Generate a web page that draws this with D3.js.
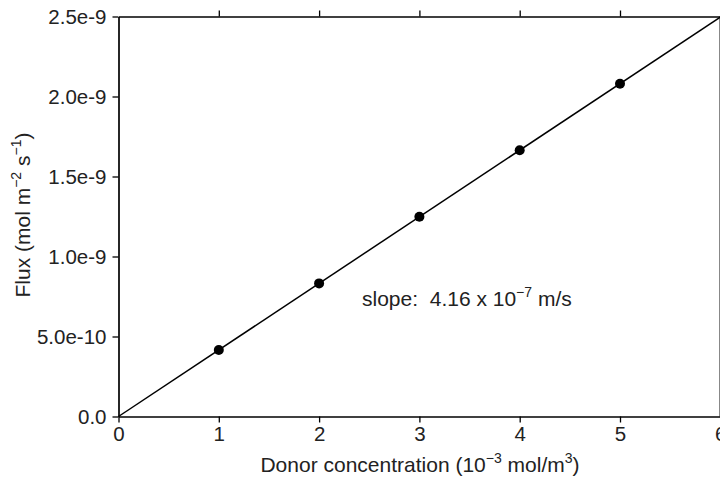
<!DOCTYPE html>
<html>
<head>
<meta charset="utf-8">
<script src="https://cdn.jsdelivr.net/npm/d3@7"></script>
<style>
  html, body { margin: 0; padding: 0; background: #fff; }
  svg { display: block; font-family: "Liberation Sans", Arial, Helvetica, sans-serif; }
</style>
</head>
<body>
<svg id="chart" width="720" height="481"></svg>
<script>
// Donor concentration (10^-3 mol/m^3) and measured flux (mol m^-2 s^-1)
const concentration = [1, 2, 3, 4, 5];
const flux = [4.16e-10, 8.32e-10, 1.248e-9, 1.664e-9, 2.08e-9];
const slope = 4.16e-10; // flux per unit of concentration axis
const fitExtent = [0, 6];
const xTicks = [0, 1, 2, 3, 4, 5, 6];
const yTicks = [0, 5e-10, 1e-9, 1.5e-9, 2e-9, 2.5e-9];
const yTickLabels = ["0.0", "5.0e-10", "1.0e-9", "1.5e-9", "2.0e-9", "2.5e-9"];

const svg = d3.select("#chart");
const ink = "#222";
const fsTick = "20.5px";
const fs = "21px";
const fsSup = "14px";
const supShift = 9;

const x = d3.scaleLinear().domain([0, 6]).range([118.5, 720.3]);
const y = d3.scaleLinear().domain([0, 2.5e-9]).range([416.5, 16.5]);

// Frame: right edge
svg.append("line")
  .attr("x1", 719.5).attr("x2", 719.5)
  .attr("y1", y(2.5e-9)).attr("y2", y(0))
  .attr("stroke", "#888").attr("stroke-width", 1);

// Bottom axis
const bottomAxis = svg.append("g")
  .attr("transform", `translate(0,${y(0)})`)
  .call(d3.axisBottom(x).tickValues(xTicks).tickFormat(d3.format("d")).tickSize(6).tickSizeOuter(0));

// Top axis (ticks only)
const topAxis = svg.append("g")
  .attr("transform", `translate(0,${y(2.5e-9)})`)
  .call(d3.axisTop(x).tickValues(xTicks).tickFormat("").tickSize(6).tickSizeOuter(0));

// Left axis
const leftAxis = svg.append("g")
  .attr("transform", `translate(${x(0)},0)`)
  .call(d3.axisLeft(y).tickValues(yTicks).tickFormat((d, i) => yTickLabels[i]).tickSize(6).tickSizeOuter(0));

[bottomAxis, topAxis, leftAxis].forEach(g => {
  g.select(".domain").attr("stroke", "#000").attr("stroke-width", 1.7);
  g.selectAll(".tick line").attr("stroke", "#000").attr("stroke-width", 1.3);
  g.selectAll(".tick text")
    .attr("fill", ink)
    .style("font-size", fsTick)
    .style("font-family", "'Liberation Sans', Arial, sans-serif");
});
bottomAxis.selectAll(".tick text").attr("y", 10).attr("dy", "0.71em");
leftAxis.selectAll(".tick text").attr("x", -12).attr("dy", "0.36em");
topAxis.selectAll(".tick").filter(d => d === 0 || d === 6).remove();

// Linear fit through the origin
svg.append("line")
  .attr("x1", x(fitExtent[0])).attr("y1", y(slope * fitExtent[0]))
  .attr("x2", x(fitExtent[1])).attr("y2", y(Math.min(slope * fitExtent[1], 2.5e-9)))
  .attr("stroke", "#000").attr("stroke-width", 1.5);

// Data points
svg.append("g").selectAll("circle")
  .data(concentration)
  .join("circle")
  .attr("cx", d => x(d))
  .attr("cy", (d, i) => y(flux[i]))
  .attr("r", 5)
  .attr("fill", "#000");

// Slope annotation
const ann = svg.append("text")
  .attr("x", 362).attr("y", 306)
  .attr("fill", ink)
  .style("font-size", fs)
  .style("white-space", "pre");
ann.append("tspan").text("slope:  4.16 x 10");
ann.append("tspan").attr("dy", -supShift).style("font-size", fsSup).text("\u22127");
ann.append("tspan").attr("dy", supShift).text(" m/s");

// X axis title
const xt = svg.append("text")
  .attr("x", 420).attr("y", 471.5)
  .attr("text-anchor", "middle")
  .attr("fill", ink)
  .style("font-size", fs);
xt.append("tspan").text("Donor concentration (10");
xt.append("tspan").attr("dy", -supShift).style("font-size", fsSup).text("\u22123");
xt.append("tspan").attr("dy", supShift).text(" mol/m");
xt.append("tspan").attr("dy", -supShift).style("font-size", fsSup).text("3");
xt.append("tspan").attr("dy", supShift).text(")");

// Y axis title
const yt = svg.append("text")
  .attr("transform", "translate(30,215) rotate(-90)")
  .attr("text-anchor", "middle")
  .attr("fill", ink)
  .style("font-size", fs);
yt.append("tspan").text("Flux (mol m");
yt.append("tspan").attr("dy", -supShift).style("font-size", fsSup).text("\u22122");
yt.append("tspan").attr("dy", supShift).text(" s");
yt.append("tspan").attr("dy", -supShift).style("font-size", fsSup).text("\u22121");
yt.append("tspan").attr("dy", supShift).text(")");
</script>
</body>
</html>
